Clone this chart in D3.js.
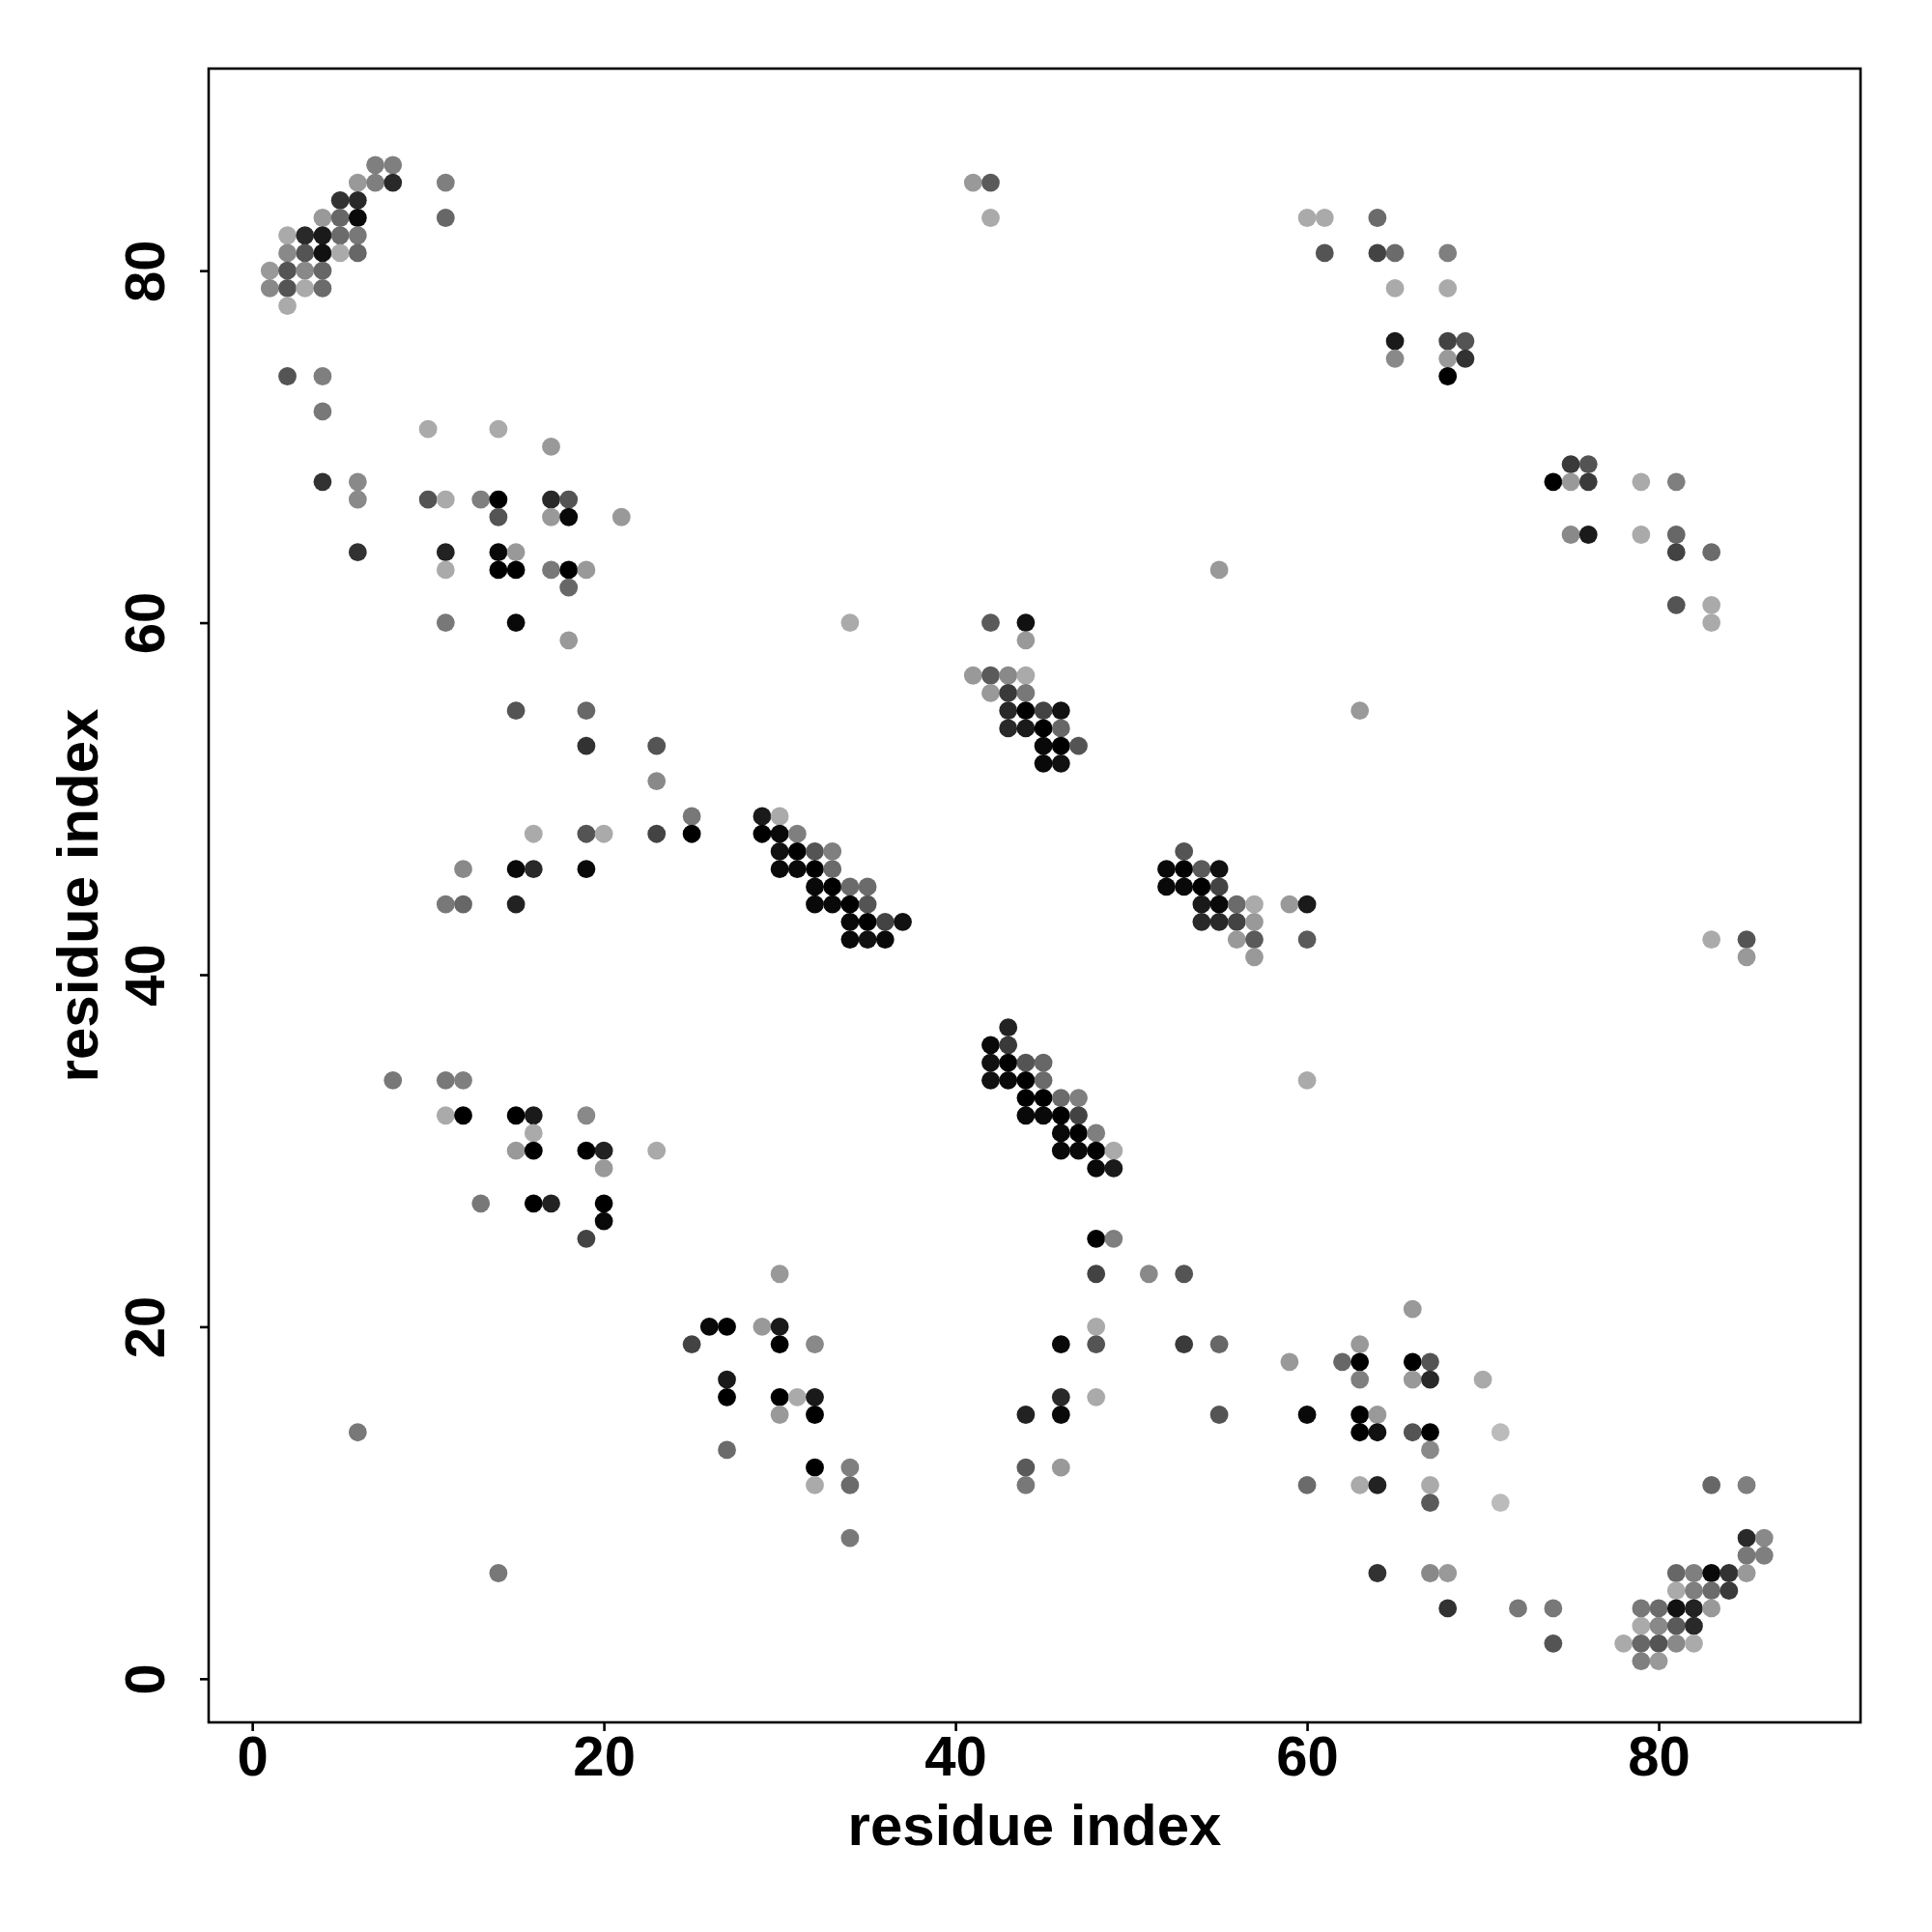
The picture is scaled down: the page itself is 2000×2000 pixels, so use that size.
<!DOCTYPE html>
<html>
<head>
<meta charset="utf-8">
<script src="https://cdn.jsdelivr.net/npm/d3@7"></script>
<style>
  html, body { margin: 0; padding: 0; background: #ffffff; }
  svg text { font-family: "Liberation Sans", Arial, Helvetica, sans-serif; font-weight: bold; }
</style>
</head>
<body>
<svg id="chart" width="2000" height="2000"></svg>
<script>
// ---- data: [residue i, residue j, contact probability] ----
const topLeft = [
  [7,86,.32],[8,86,.32],
  [6,85,.18],[7,85,.32],[8,85,.78],[11,85,.32],
  [5,84,.73],[6,84,.78],
  [4,83,.18],[5,83,.45],[6,83,.95],[11,83,.45],
  [2,82,.09],[3,82,.78],[4,82,.86],[5,82,.43],[6,82,.36],
  [2,81,.27],[3,81,.55],[4,81,.91],[5,81,.09],[6,81,.45],
  [1,80,.18],[2,80,.55],[3,80,.27],[4,80,.45],
  [1,79,.27],[2,79,.55],[3,79,.09],[4,79,.43],
  [2,78,.09],
  [2,74,.55],[4,74,.32],
  [4,72,.36],
  [10,71,.09],[14,71,.09],
  [17,70,.18],
  [4,68,.73],[6,68,.27],
  [6,67,.27],[10,67,.55],[11,67,.09],[13,67,.32],[14,67,1],[17,67,.78],[18,67,.55],
  [14,66,.55],[17,66,.18],[18,66,.95],[21,66,.18],
  [6,64,.73],[11,64,.82],[14,64,.95],[15,64,.18],
  [11,63,.09],[14,63,1],[15,63,1],[17,63,.36],[18,63,1],[19,63,.18],
  [18,62,.45],
  [11,60,.36],[15,60,.95]
];
const upperMid = [
  [41,85,.18],[42,85,.52],[42,83,.09],[60,83,.09],[61,83,.09],[61,81,.55],
  [55,63,.18],[34,60,.09],[42,60,.52],[44,60,.91]
];
const upperRight = [
  [64,83,.43],[64,81,.64],[65,81,.43],[68,81,.32],[65,79,.09],[68,79,.09],
  [65,76,.86],[68,76,.64],[69,76,.55],[65,75,.27],[68,75,.18],[69,75,.73],[68,74,1],
  [75,69,.69],[76,69,.55],[74,68,1],[75,68,.18],[76,68,.69],[79,68,.09],[81,68,.32],
  [75,65,.27],[76,65,.86],[79,65,.09],[81,65,.45],[81,64,.64],[83,64,.43],
  [81,61,.55],[83,61,.09],[83,60,.09]
];
const midLeft = [
  [18,59,.18],[15,55,.55],[19,55,.45],[19,53,.73],[23,53,.55],[23,51,.27],[25,49,.36],[29,49,.86],
  [16,48,.09],[19,48,.55],[20,48,.09],[23,48,.64],[25,48,1],[29,48,1],
  [12,46,.27],[15,46,.95],[16,46,.78],[19,46,.95],
  [11,44,.36],[12,44,.45],[15,44,.82],
  [8,34,.36],[11,34,.36],[12,34,.32],
  [11,32,.09],[12,32,1],[15,32,1],[16,32,.86],[19,32,.27],
  [16,31,.09],
  [15,30,.18],[16,30,1],[19,30,1],[20,30,.82],[23,30,.09],
  [20,29,.18]
];
const center = [
  [44,59,.18],
  [41,57,.18],[42,57,.52],[43,57,.27],[44,57,.09],
  [42,56,.18],[43,56,.69],[44,56,.36],
  [43,55,.78],[44,55,1],[45,55,.64],[46,55,.91],
  [43,54,.78],[44,54,.86],[45,54,1],[46,54,.45],
  [45,53,.95],[46,53,1],[47,53,.55],
  [45,52,.95],[46,52,.91],
  [30,49,.09],
  [30,48,.95],[31,48,.32],
  [30,47,.91],[31,47,1],[32,47,.55],[33,47,.32],
  [30,46,.95],[31,46,.95],[32,46,1],[33,46,.43],
  [32,45,.95],[33,45,1],[34,45,.43],[35,45,.43],
  [32,44,.95],[33,44,.95],[34,44,1],[35,44,.55],
  [34,43,.95],[35,43,1],[36,43,.64],[37,43,.91],
  [34,42,.95],[35,42,.91],[36,42,.95],
  [53,47,.55],
  [52,46,.95],[53,46,1],[54,46,.52],[55,46,.91],
  [52,45,.95],[53,45,.95],[54,45,1],[55,45,.64],
  [54,44,.86],[55,44,.95],[56,44,.43],[57,44,.09],[59,44,.18],[60,44,.86],
  [54,43,.78],[55,43,.78],[56,43,.64],[57,43,.18],
  [56,42,.18],[57,42,.52],[60,42,.52],
  [57,41,.18],
  [43,37,.82],
  [42,36,.95],[43,36,.69],
  [42,35,.91],[43,35,1],[44,35,.55],[45,35,.45],
  [42,34,.91],[43,34,.95],[44,34,1],[45,34,.43],
  [44,33,1],[45,33,1],[46,33,.43],[47,33,.32],
  [44,32,.95],[45,32,.95],[46,32,1],[47,32,.64],
  [46,31,.95],[47,31,1],[48,31,.32],
  [46,30,.95],[47,30,.95],[48,30,1],[49,30,.09],
  [48,29,.95],[49,29,.86],
  [60,34,.09]
];
const midRight = [
  [63,55,.18],[83,42,.09],[85,42,.55],[85,41,.18]
];
const lowerLeft = [
  [13,27,.36],[16,27,1],[17,27,.82],[20,27,1],[20,26,.95],[19,25,.64],
  [26,20,.95],[27,20,1],[29,20,.18],[25,19,.64],[27,17,.86],[27,16,1],
  [6,14,.36],[27,13,.43],[14,6,.36]
];
const lowerMid = [
  [48,25,1],[49,25,.32],
  [30,23,.18],[48,23,.64],[51,23,.27],[53,23,.55],
  [30,20,.86],[48,20,.09],
  [30,19,1],[32,19,.27],[46,19,.95],[48,19,.55],[53,19,.69],[55,19,.45],
  [59,18,.18],
  [30,16,1],[31,16,.09],[32,16,.86],[46,16,.78],[48,16,.09],
  [30,15,.18],[32,15,1],[44,15,.82],[46,15,.95],[55,15,.55],[60,15,.95],
  [32,12,1],[34,12,.32],[44,12,.52],[46,12,.18],
  [32,11,.09],[34,11,.43],[44,11,.36],[60,11,.43],
  [34,8,.36]
];
const lowerRight = [
  [66,21,.18],
  [63,19,.18],
  [62,18,.45],[63,18,1],[66,18,1],[67,18,.55],
  [63,17,.32],[66,17,.18],[67,17,.78],[70,17,.09],
  [63,15,1],[64,15,.18],
  [63,14,1],[64,14,.91],[66,14,.55],[67,14,1],[71,14,0],
  [67,13,.27],
  [63,11,.09],[64,11,.82],[67,11,.09],[83,11,.45],[85,11,.32],
  [67,10,.52],[71,10,0],
  [85,8,.78],[86,8,.27],
  [85,7,.36],[86,7,.32],
  [64,6,.73],[67,6,.27],[68,6,.18],[81,6,.45],[82,6,.32],[83,6,.95],[84,6,.73],[85,6,.18],
  [81,5,.09],[82,5,.32],[83,5,.43],[84,5,.69],
  [68,4,.73],[72,4,.36],[74,4,.36],[79,4,.36],[80,4,.43],[81,4,.91],[82,4,.82],[83,4,.18],
  [79,3,.09],[80,3,.27],[81,3,.52],[82,3,.78],
  [74,2,.55],[78,2,.09],[79,2,.45],[80,2,.55],[81,2,.27],[82,2,.09],
  [79,1,.32],[80,1,.18]
];
const axisLimits = [1, 88];
const tickValues = [0, 20, 40, 60, 80];
const xTitle = "residue index";
const yTitle = "residue index";

// ---- layout ----
const plot = { left: 216, right: 1926, top: 71, bottom: 1783 };
const pad = 0.04 * (axisLimits[1] - axisLimits[0]);
const domain = [axisLimits[0] - pad, axisLimits[1] + pad];

const x = d3.scaleLinear().domain(domain).range([plot.left, plot.right]);
const y = d3.scaleLinear().domain(domain).range([plot.bottom, plot.top]);
const shade = d3.scaleLinear().domain([0, 1]).range(["#bbbbbb", "#000000"]);

const contacts = [].concat(topLeft, upperMid, upperRight, midLeft, center,
                           midRight, lowerLeft, lowerMid, lowerRight);

const svg = d3.select("#chart");
svg.append("rect").attr("width", 2000).attr("height", 2000).attr("fill", "#ffffff");

svg.append("g")
  .selectAll("circle")
  .data(contacts)
  .join("circle")
  .attr("cx", d => x(d[0]))
  .attr("cy", d => y(d[1]))
  .attr("r", 9.4)
  .attr("fill", d => shade(d[2]));

// box
svg.append("rect")
  .attr("x", plot.left).attr("y", plot.top)
  .attr("width", plot.right - plot.left).attr("height", plot.bottom - plot.top)
  .attr("fill", "none").attr("stroke", "#000").attr("stroke-width", 2.6);

const fs = 58;
const fsTitle = 60;
// x axis
const gx = svg.append("g")
  .attr("transform", `translate(0,${plot.bottom})`)
  .call(d3.axisBottom(x).tickValues(tickValues).tickSize(9).tickPadding(5).tickFormat(d3.format("d")));
gx.select(".domain").remove();
gx.selectAll(".tick line").attr("stroke", "#000").attr("stroke-width", 2.6);
gx.selectAll(".tick text").attr("fill", "#000").attr("font-size", fs)
  .attr("font-family", null).attr("dy", null).attr("y", 1838 - plot.bottom);

// y axis
const gy = svg.append("g")
  .attr("transform", `translate(${plot.left},0)`)
  .call(d3.axisLeft(y).tickValues(tickValues).tickSize(9).tickFormat(d3.format("d")));
gy.select(".domain").remove();
gy.selectAll(".tick line").attr("stroke", "#000").attr("stroke-width", 2.6);
gy.selectAll(".tick text").attr("fill", "#000").attr("font-size", fs)
  .attr("font-family", null)
  .attr("text-anchor", "middle")
  .attr("dy", null)
  .attr("x", 0)
  .attr("y", -(plot.left - 170))
  .attr("transform", "rotate(-90)");

// titles
svg.append("text")
  .attr("x", (plot.left + plot.right) / 2)
  .attr("y", 1910)
  .attr("text-anchor", "middle")
  .attr("font-size", fsTitle)
  .text(xTitle);

svg.append("text")
  .attr("transform", `translate(101,${(plot.top + plot.bottom) / 2}) rotate(-90)`)
  .attr("text-anchor", "middle")
  .attr("font-size", fsTitle)
  .text(yTitle);
</script>
</body>
</html>
